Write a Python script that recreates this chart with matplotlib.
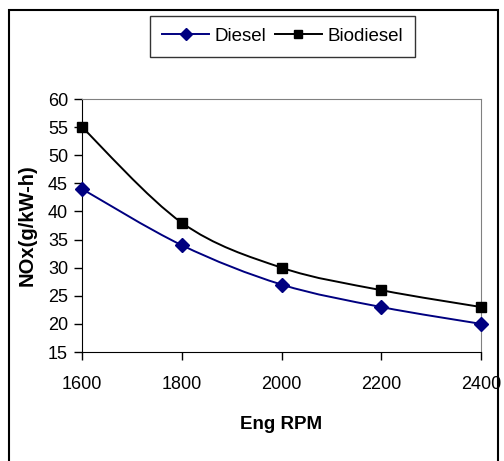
import matplotlib.pyplot as plt
import numpy as np
from matplotlib.path import Path
from matplotlib.patches import PathPatch, Rectangle
from matplotlib.lines import Line2D

plt.rcParams['font.family'] = ['Liberation Sans', 'DejaVu Sans']

rpm = [1600, 1800, 2000, 2200, 2400]
diesel = [44, 34, 27, 23, 20]
biodiesel = [55, 38, 30, 26, 23]


def smooth_path(x, y):
    # Excel-style smoothed line: cubic Bezier through the points
    pts = np.column_stack([x, y]).astype(float)
    n = len(pts)
    verts = [pts[0]]
    codes = [Path.MOVETO]
    for i in range(n - 1):
        p0 = pts[i - 1] if i > 0 else pts[i]
        p1 = pts[i]
        p2 = pts[i + 1]
        p3 = pts[i + 2] if i + 2 < n else pts[i + 1]
        c1 = p1 + (p2 - p0) / 6.0
        c2 = p2 - (p3 - p1) / 6.0
        verts += [c1, c2, p2]
        codes += [Path.CURVE4] * 3
    return Path(verts, codes)


fig = plt.figure(figsize=(5.04, 4.61), dpi=100)
W, H = 504, 461
ax = fig.add_axes([82 / W, 1 - 352 / H, (481 - 82) / W, (352 - 99) / H])

handles = []
for xs, ys, col, mk, lab in [(rpm, diesel, '#000080', 'D', 'Diesel'),
                             (rpm, biodiesel, 'black', 's', 'Biodiesel')]:
    ax.add_patch(PathPatch(smooth_path(xs, ys), facecolor='none', edgecolor=col, lw=1.4, clip_on=False))
    ax.plot(xs, ys, linestyle='none', marker=mk, color=col, markersize=7 if mk == 'D' else 7.5,
            clip_on=False, zorder=5)
    handles.append(Line2D([], [], color=col, marker=mk, markersize=6, lw=1.4, label=lab))

ax.set_xlim(1600, 2400)
ax.set_ylim(15, 60)
ax.set_xticks(rpm)
ax.set_yticks(range(15, 61, 5))
ax.tick_params(direction='out', length=6, width=1, labelsize=13, colors='black')
ax.tick_params(axis='x', pad=11)
ax.tick_params(axis='y', pad=4)
for s in ['top', 'right']:
    ax.spines[s].set_color('#808080')
for s in ['left', 'bottom']:
    ax.spines[s].set_color('black')
ax.set_xlabel('Eng RPM', fontsize=13.5, fontweight='bold', labelpad=17)
ax.set_ylabel('NOx(g/kW-h)', fontsize=14.5, fontweight='bold', labelpad=8)

leg = fig.legend(handles=handles, loc='center', bbox_to_anchor=(282.5 / W, 1 - 36.5 / H), ncol=2,
                 frameon=True, fancybox=False, edgecolor='black', fontsize=13.5, handlelength=2.5,
                 columnspacing=0.45, handletextpad=0.3, borderpad=0.65, borderaxespad=0)
leg.get_frame().set_linewidth(1)

fig.patches.append(Rectangle((9 / W, -0.1), (498 - 9) / W, 1.1 - 10 / H, transform=fig.transFigure,
                             facecolor='none', edgecolor='black', lw=1.5))

fig.savefig('out.png', dpi=100)
